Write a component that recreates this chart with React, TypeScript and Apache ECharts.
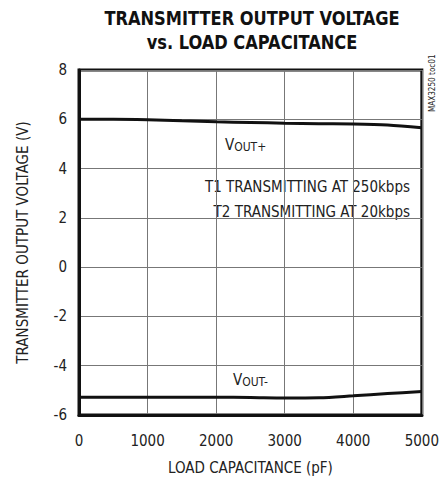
import React, { useEffect, useRef } from "react";
import * as echarts from "echarts";

const capacitance = [0, 500, 1000, 1500, 2000, 2500, 3000, 3500, 4000, 4500, 5000];
const voutPlus = [6.0, 6.0, 5.98, 5.94, 5.9, 5.87, 5.84, 5.82, 5.81, 5.77, 5.66];
const voutMinus = [-5.28, -5.28, -5.28, -5.28, -5.28, -5.29, -5.31, -5.3, -5.22, -5.13, -5.05];
const xTicks = [0, 1000, 2000, 3000, 4000, 5000];
const yTicks = [-6, -4, -2, 0, 2, 4, 6, 8];

const FONT = "'DejaVu Sans Condensed', Roboto, 'Liberation Sans', sans-serif";

export default function App() {
  const ref = useRef<HTMLDivElement>(null);
  useEffect(() => {
    if (!ref.current) return;
    const chart = echarts.init(ref.current, null, { renderer: "svg" });
    chart.setOption({
      animation: false,
      backgroundColor: "#fff",
      grid: {
        left: 79,
        right: 18,
        top: 70,
        bottom: 66,
        show: true,
        borderColor: "#111",
        borderWidth: 3,
      },
      xAxis: {
        type: "value",
        min: xTicks[0],
        max: xTicks[xTicks.length - 1],
        interval: 1000,
        name: "LOAD CAPACITANCE (pF)",
        nameLocation: "middle",
        nameGap: 45,
        nameTextStyle: { fontFamily: FONT, fontSize: 15, color: "#222" },
        axisLine: { show: true, onZero: false, lineStyle: { color: "#111", width: 3 } },
        axisTick: { show: false },
        axisLabel: {
          fontFamily: FONT,
          fontSize: 15,
          color: "#222",
          margin: 18,
          formatter: (v: number) => String(v),
        },
        splitLine: { show: true, lineStyle: { color: "#777", width: 1 } },
      },
      yAxis: {
        type: "value",
        min: yTicks[0],
        max: yTicks[yTicks.length - 1],
        interval: 2,
        name: "TRANSMITTER OUTPUT VOLTAGE (V)",
        nameLocation: "middle",
        nameGap: 49,
        nameTextStyle: { fontFamily: FONT, fontSize: 15, color: "#222" },
        axisLine: { show: true, onZero: false, lineStyle: { color: "#111", width: 3 } },
        axisTick: { show: false },
        axisLabel: { fontFamily: FONT, fontSize: 15, color: "#222", margin: 12 },
        splitLine: { show: true, lineStyle: { color: "#777", width: 1 } },
      },
      series: [
        {
          type: "line",
          data: capacitance.map((c, i) => [c, voutPlus[i]]),
          smooth: 0.3,
          showSymbol: false,
          lineStyle: { color: "#111", width: 3 },
        },
        {
          type: "line",
          data: capacitance.map((c, i) => [c, voutMinus[i]]),
          smooth: 0.3,
          showSymbol: false,
          lineStyle: { color: "#111", width: 3 },
        },
      ],
      graphic: [
        {
          type: "text",
          x: 252,
          y: 6,
          scaleX: 0.95,
          style: {
            text: "TRANSMITTER OUTPUT VOLTAGE\nvs. LOAD CAPACITANCE",
            font: `bold 19px ${FONT}`,
            fill: "#111",
            align: "center",
            lineHeight: 24,
          },
        },
        {
          type: "text",
          x: 225,
          y: 136,
          style: {
            rich: {
              v: { fontFamily: FONT, fontSize: 15, fill: "#222" },
              s: { fontFamily: FONT, fontSize: 12, fill: "#222", padding: [5, 0, 0, 0] },
            },
            text: "{v|V}{s|OUT+}",
          },
        },
        {
          type: "text",
          x: 410,
          y: 174,
          style: {
            text: "T1 TRANSMITTING AT 250kbps\nT2 TRANSMITTING AT 20kbps",
            fontFamily: FONT,
            fontSize: 15,
            fill: "#222",
            align: "right",
            lineHeight: 25,
          },
        },
        {
          type: "text",
          x: 233,
          y: 371,
          style: {
            rich: {
              v: { fontFamily: FONT, fontSize: 15, fill: "#222" },
              s: { fontFamily: FONT, fontSize: 12, fill: "#222", padding: [5, 0, 0, 0] },
            },
            text: "{v|V}{s|OUT-}",
          },
        },
        {
          type: "text",
          x: 427,
          y: 112,
          rotation: Math.PI / 2,
          scaleX: 0.9,
          style: {
            text: "MAX3250 toc01",
            fontFamily: FONT,
            fontSize: 9,
            fill: "#222",
          },
        },
      ],
    });
    return () => chart.dispose();
  }, []);
  return (
    <div
      ref={ref}
      style={{ width: 442, height: 481, position: "absolute", left: 0, top: 0 }}
    />
  );
}
